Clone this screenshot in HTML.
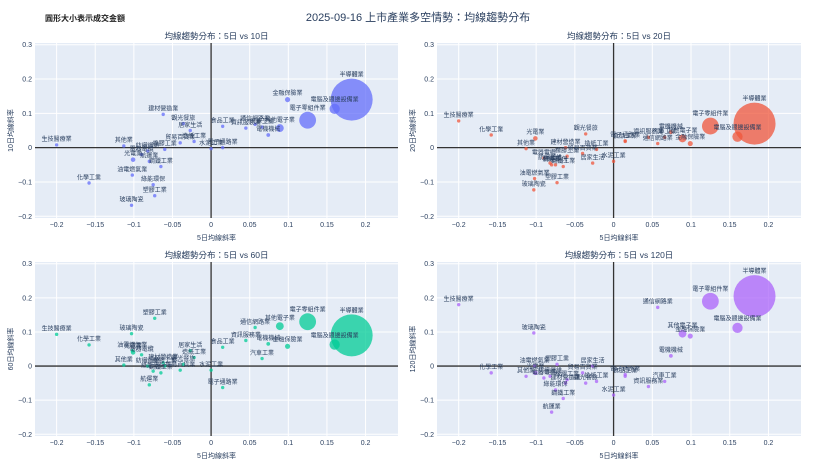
<!DOCTYPE html>
<html><head><meta charset="utf-8">
<style>
html,body{margin:0;padding:0;background:#fff;}
body{width:836px;height:470px;overflow:hidden;font-family:"Liberation Sans","Noto Sans CJK TC",sans-serif;}
svg text{font-family:"Liberation Sans","Noto Sans CJK TC",sans-serif;}
</style></head>
<body>
<svg id="chart" width="836" height="470" xmlns="http://www.w3.org/2000/svg">
<text x="45" y="21" font-size="8" font-weight="bold" fill="#222">圓形大小表示成交金額</text>
<text x="418" y="21" font-size="11" fill="#2a3f5f" text-anchor="middle">2025-09-16 上市產業多空情勢：均線趨勢分布</text>
</svg>
<script>
const industries=["半導體業","電腦及週邊設備業","電子零組件業","其他電子業","金融保險業","電機機械","通信網路業","資訊服務業","汽車工業","食品工業","電子通路業","水泥工業","光電業","生技醫療業","化學工業","其他業","建材營造業","觀光餐旅","居家生活","貿易百貨業","造紙工業","玻璃陶瓷","油電燃氣業","綠能環保","塑膠工業","鋼鐵工業","航運業","電器電纜","橡膠工業","紡織纖維"];
const slope5=[0.182,0.16,0.125,0.089,0.099,0.074,0.057,0.045,0.066,0.015,0.015,0.0,-0.101,-0.2,-0.158,-0.113,-0.062,-0.036,-0.027,-0.04,-0.022,-0.103,-0.102,-0.075,-0.073,-0.065,-0.08,-0.09,-0.06,-0.082];
const slope10=[0.14,0.113,0.08,0.057,0.14,0.037,0.068,0.057,0.06,0.062,0.0,-0.003,-0.035,0.008,-0.103,0.005,0.097,0.07,0.05,0.014,0.018,-0.168,-0.08,-0.108,-0.14,-0.055,-0.04,-0.02,-0.005,-0.01];
const slope20=[0.07,0.032,0.063,0.027,0.012,0.045,0.012,0.03,0.03,0.018,0.02,-0.04,0.027,0.078,0.037,-0.003,0.0,0.04,-0.045,-0.017,-0.005,-0.123,-0.09,-0.05,-0.102,-0.055,-0.05,-0.03,-0.025,-0.045];
const slope60=[0.09,0.063,0.13,0.117,0.058,0.065,0.113,0.075,0.022,0.055,-0.063,-0.012,0.04,0.093,0.062,0.003,0.01,0.005,0.045,-0.012,0.025,0.095,0.045,-0.015,0.14,-0.02,-0.055,0.033,0.0,0.0];
const slope120=[0.205,0.112,0.19,0.095,0.088,0.03,0.172,-0.06,-0.045,-0.03,-0.025,-0.085,-0.02,0.18,-0.02,-0.03,-0.05,-0.05,0.0,-0.02,-0.045,0.097,0.0,-0.07,0.005,-0.095,-0.135,-0.035,-0.04,-0.03];
const volume=[1000,60,160,35,15,8,6,6,5,4,3,3,12,4,3,3,4,3,3,3,3,3,4,3,3,4,4,4,3,3];
const xTicks=[-0.2,-0.15,-0.1,-0.05,0,0.05,0.1,0.15,0.2];
const xTickLabels=["−0.2","−0.15","−0.1","−0.05","0","0.05","0.1","0.15","0.2"];
const yTicks=[-0.2,-0.1,0,0.1,0.2,0.3];
const yTickLabels=["−0.2","−0.1","0","0.1","0.2","0.3"];
const panelNames=["10日","20日","60日","120日"];
const panelSeries=[slope10,slope20,slope60,slope120];
const panelColors=["#636efa","#EF553B","#00cc96","#ab63fa"];
const boxes=[{l:35,r:398,t:43,b:218},{l:437,r:801,t:43,b:218},{l:35,r:398,t:262,b:436},{l:437,r:801,t:262,b:436}];
const NS="http://www.w3.org/2000/svg";
const svg=document.getElementById('chart');
function mk(tag,attrs,parent){const e=document.createElementNS(NS,tag);for(const k in attrs)e.setAttribute(k,attrs[k]);(parent||svg).appendChild(e);return e;}
const X0=-0.228,X1=0.242,Y0=-0.205,Y1=0.305;
boxes.forEach((b,p)=>{
  const sx=v=>b.l+(v-X0)/(X1-X0)*(b.r-b.l);
  const sy=v=>b.b-(v-Y0)/(Y1-Y0)*(b.b-b.t);
  const g=mk('g',{});
  
  
  const bg=mk('rect',{x:b.l,y:b.t,width:b.r-b.l,height:b.b-b.t,fill:'#e5ecf6'},g);
  
  
  xTicks.forEach((v,i)=>{
    const gl=mk('line',{x1:sx(v),x2:sx(v),y1:b.t,y2:b.b,stroke:'#fff','stroke-width':1},g);
    
    
    const t=mk('text',{x:sx(v),y:b.b+9,'font-size':7,fill:'#2a3f5f','text-anchor':'middle'},g);
    t.textContent=xTickLabels[i];
    
    
  });
  yTicks.forEach((v,i)=>{
    const gl=mk('line',{x1:b.l,x2:b.r,y1:sy(v),y2:sy(v),stroke:'#fff','stroke-width':1},g);
    
    
    const t=mk('text',{x:b.l-3,y:sy(v)+2.5,'font-size':7,fill:'#2a3f5f','text-anchor':'end'},g);
    t.textContent=yTickLabels[i];
    
    
  });
  const zx=mk('line',{x1:sx(0),x2:sx(0),y1:b.t,y2:b.b,stroke:'#333','stroke-width':1.3},g);
  
  
  const zy=mk('line',{x1:b.l,x2:b.r,y1:sy(0),y2:sy(0),stroke:'#333','stroke-width':1.3},g);
  
  
  const ys=panelSeries[p];
  const order=industries.map((_,i)=>i).sort((a,c)=>volume[c]-volume[a]);
  order.forEach(i=>{
    const r=Math.max(1.7,21*Math.sqrt(volume[i]/1000));
    const c=mk('circle',{cx:sx(slope5[i]),cy:sy(ys[i]),r:r,fill:panelColors[p],'fill-opacity':0.75},g);
    
    
  });
  industries.forEach((n,i)=>{
    const r=Math.max(1.7,21*Math.sqrt(volume[i]/1000));
    const t=mk('text',{x:sx(slope5[i]),y:sy(ys[i])-r-2,'font-size':6,fill:'#2a3f5f','text-anchor':'middle'},g);
    t.textContent=n;
    
    
  });
  const tt=mk('text',{x:(b.l+b.r)/2,y:b.t-4,'font-size':8.5,fill:'#2a3f5f','text-anchor':'middle'},g);
  tt.textContent='均線趨勢分布：5日 vs '+panelNames[p];
  
  
  const xt=mk('text',{x:(b.l+b.r)/2,y:b.b+22,'font-size':7,fill:'#2a3f5f','text-anchor':'middle'},g);
  xt.textContent='5日均線斜率';
  
  
  const yx=b.l-22,yy=(b.t+b.b)/2;
  const yt=mk('text',{x:yx,y:yy,'font-size':7,fill:'#2a3f5f','text-anchor':'middle',transform:'rotate(-90 '+yx+' '+yy+')'},g);
  yt.textContent=panelNames[p]+'均線斜率';
  
  
});
</script>
</body></html>
